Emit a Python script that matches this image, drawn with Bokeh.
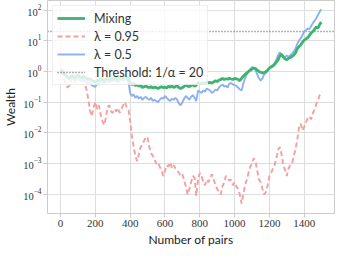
from bokeh.plotting import figure
from bokeh.models import Range1d, Legend, LegendItem
from bokeh.embed import file_html
from bokeh.resources import INLINE

pairs = list(range(0, 1500, 10)) + [1499]

mixing = [1.1, 1.0, 0.85, 0.75, 0.65, 0.62, 0.68, 0.72, 0.65, 0.7,
          0.75, 0.68, 0.62, 0.7, 0.66, 0.6, 0.55, 0.58, 0.5, 0.48,
          0.45, 0.52, 0.5, 0.55, 0.6, 0.52, 0.56, 0.62, 0.55, 0.6,
          0.58, 0.65, 0.6, 0.55, 0.62, 0.68, 0.6, 0.72, 0.65, 0.6,
          0.42, 0.38, 0.4, 0.35, 0.37, 0.33, 0.36, 0.3, 0.32, 0.34,
          0.31, 0.3, 0.32, 0.29, 0.31, 0.3, 0.28, 0.3, 0.32, 0.3,
          0.31, 0.29, 0.33, 0.31, 0.34, 0.3, 0.32, 0.35, 0.3, 0.28,
          0.3, 0.33, 0.36, 0.34, 0.32, 0.35, 0.37, 0.33, 0.36, 0.44,
          0.42, 0.4, 0.43, 0.41, 0.45, 0.43, 0.44, 0.42, 0.46, 0.5,
          0.47, 0.52, 0.55, 0.6, 0.55, 0.58, 0.56, 0.6, 0.57, 0.55,
          0.6, 0.58, 0.55, 0.5, 0.6, 0.7, 0.8, 0.9, 1.0, 1.1,
          1.2, 1.3, 1.25, 1.1, 1.0, 0.95, 0.9, 0.92, 0.98, 1.1,
          1.3, 1.4, 1.5, 1.7, 2.0, 2.4, 3.2, 3.6, 3.0, 2.6,
          2.4, 2.7, 2.8, 3.1, 3.4, 4.0, 5.5, 6.5, 7.2, 9.0,
          10.5, 11.5, 12.5, 15, 18, 20, 24, 28, 26, 35, 40]

lam_095 = [1.0, 0.8, 0.55, 0.4, 0.3, 0.35, 0.5, 0.6, 0.45, 0.55,
           0.7, 0.5, 0.6, 0.45, 0.4, 0.25, 0.12, 0.05, 0.035, 0.07,
           0.1, 0.06, 0.08, 0.04, 0.025, 0.018, 0.03, 0.07, 0.08, 0.05,
           0.045, 0.06, 0.05, 0.065, 0.045, 0.06, 0.08, 0.1, 0.07, 0.06,
           0.025, 0.008, 0.0035, 0.0018, 0.0012, 0.002, 0.0035, 0.0043, 0.0055, 0.0075,
           0.007, 0.0035, 0.0022, 0.0018, 0.0014, 0.001, 0.0011, 0.0008, 0.0006, 0.0004,
           0.0006, 0.0009, 0.0008, 0.0011, 0.0007, 0.0009, 0.0007, 0.0006, 0.0005, 0.0004,
           0.00045, 0.0003, 0.00018, 0.0001, 0.00015, 0.00025, 0.0004, 0.00035, 0.00009, 0.0003,
           0.0005, 0.0004, 0.00025, 0.0002, 0.0003, 0.00025, 0.00035, 0.00045, 0.0003, 0.0002,
           0.00015, 0.00012, 0.0001, 0.00018, 0.00025, 0.0004, 0.00035, 0.00028, 0.0003, 0.0002,
           0.00025, 0.00018, 0.00015, 0.0001, 0.00005, 0.0001, 0.0002, 0.0003, 0.0005, 0.0008,
           0.001, 0.0015, 0.0012, 0.0006, 0.0003, 0.00025, 0.00015, 0.0001, 0.00012, 0.0002,
           0.0004, 0.0005, 0.0007, 0.0009, 0.0015, 0.0028, 0.0035, 0.002, 0.0009, 0.0006,
           0.0004, 0.0007, 0.0009, 0.001, 0.0018, 0.003, 0.006, 0.015, 0.02, 0.012,
           0.016, 0.022, 0.03, 0.035, 0.028, 0.045, 0.06, 0.09, 0.12, 0.18, 0.22]

lam_05 = [1.2, 1.1, 0.9, 0.75, 0.62, 0.55, 0.6, 0.65, 0.55, 0.6,
          0.68, 0.6, 0.5, 0.58, 0.52, 0.45, 0.4, 0.42, 0.36, 0.33,
          0.32, 0.4, 0.38, 0.45, 0.5, 0.42, 0.46, 0.52, 0.45, 0.5,
          0.48, 0.55, 0.5, 0.45, 0.52, 0.58, 0.5, 0.62, 0.55, 0.45,
          0.2, 0.16, 0.18, 0.14, 0.16, 0.13, 0.15, 0.12, 0.14, 0.15,
          0.13, 0.12, 0.14, 0.11, 0.12, 0.11, 0.1, 0.12, 0.14, 0.13,
          0.16, 0.14, 0.12, 0.11, 0.13, 0.12, 0.14, 0.12, 0.09, 0.08,
          0.1, 0.13, 0.16, 0.14, 0.12, 0.15, 0.17, 0.14, 0.11, 0.24,
          0.22, 0.2, 0.24, 0.22, 0.28, 0.26, 0.24, 0.2, 0.22, 0.26,
          0.24, 0.3, 0.34, 0.38, 0.32, 0.35, 0.3, 0.4, 0.42, 0.38,
          0.36, 0.34, 0.3, 0.26, 0.24, 0.4, 0.6, 0.8, 1.0, 1.2,
          1.4, 1.3, 1.1, 0.8, 0.6, 0.5, 0.6, 0.8, 0.9, 1.1,
          1.3, 1.5, 1.6, 1.9, 2.4, 3.4, 4.2, 3.5, 2.8, 3.0,
          3.3, 3.0, 3.4, 3.8, 4.5, 5.5, 8, 10, 12, 15,
          20, 22, 25, 24, 30, 38, 45, 55, 70, 90, 105]

threshold = 20
labels = ["Mixing", "\u03bb = 0.95", "\u03bb = 0.5", "Threshold: 1/\u03b1 = 20"]

p = figure(width=337, height=249, output_backend="svg", toolbar_location=None,
           y_axis_type="log",
           x_range=Range1d(-75, 1574), y_range=Range1d(10 ** -4.62, 10 ** 2.31),
           min_border_left=36, min_border_right=3, min_border_top=0, min_border_bottom=27)

p.background_fill_color = "white"
p.outline_line_color = "#cccccc"
p.xgrid.grid_line_color = "#dddddd"
p.ygrid.grid_line_color = "#dddddd"
p.xaxis.ticker = [0, 200, 400, 600, 800, 1000, 1200, 1400]

for ax in (p.xaxis[0], p.yaxis[0]):
    ax.axis_line_color = "#cccccc"
    ax.major_tick_line_color = "#cccccc"
    ax.major_tick_out = 4
    ax.major_tick_in = 0
    ax.minor_tick_line_color = None
    ax.major_label_text_font = "Liberation Serif"
    ax.major_label_text_color = "#333333"
    ax.major_label_standoff = 2
    ax.axis_label_text_font = "Lato"
    ax.axis_label_text_font_size = "12px"
    ax.axis_label_text_font_style = "normal"
    ax.axis_label_text_color = "#222222"
    ax.axis_label_standoff = 2
p.xaxis.major_label_text_font_size = "11px"
p.yaxis.major_label_text_font_size = "10.5px"

p.xaxis.axis_label = "Number of pairs"
p.yaxis.axis_label = "Wealth"

r_thr = p.line([-75, 1574], [threshold, threshold], line_color="#666666",
               line_width=1.3, line_dash="1 2")
r_red = p.line(pairs, lam_095, line_color="#f2a0a0", line_width=1.9, line_dash="5 3")
r_blue = p.line(pairs, lam_05, line_color="#8cb0f0", line_width=1.9)
r_green = p.line(pairs, mixing, line_color="#3cb371", line_width=2.8)

legend = Legend(items=[LegendItem(label=labels[0], renderers=[r_green]),
                       LegendItem(label=labels[1], renderers=[r_red]),
                       LegendItem(label=labels[2], renderers=[r_blue]),
                       LegendItem(label=labels[3], renderers=[r_thr])],
                location="top_left")
legend.margin = 5
legend.padding = 4
legend.spacing = 2
legend.glyph_width = 28
legend.glyph_height = 16
legend.label_standoff = 9
legend.label_height = 16
legend.label_text_font = "Lato"
legend.label_text_font_size = "12.5px"
legend.label_text_color = "#333333"
legend.border_line_color = "#dddddd"
legend.background_fill_alpha = 0.8
p.add_layout(legend, "center")

open("out.html", "w").write(file_html(p, INLINE))
